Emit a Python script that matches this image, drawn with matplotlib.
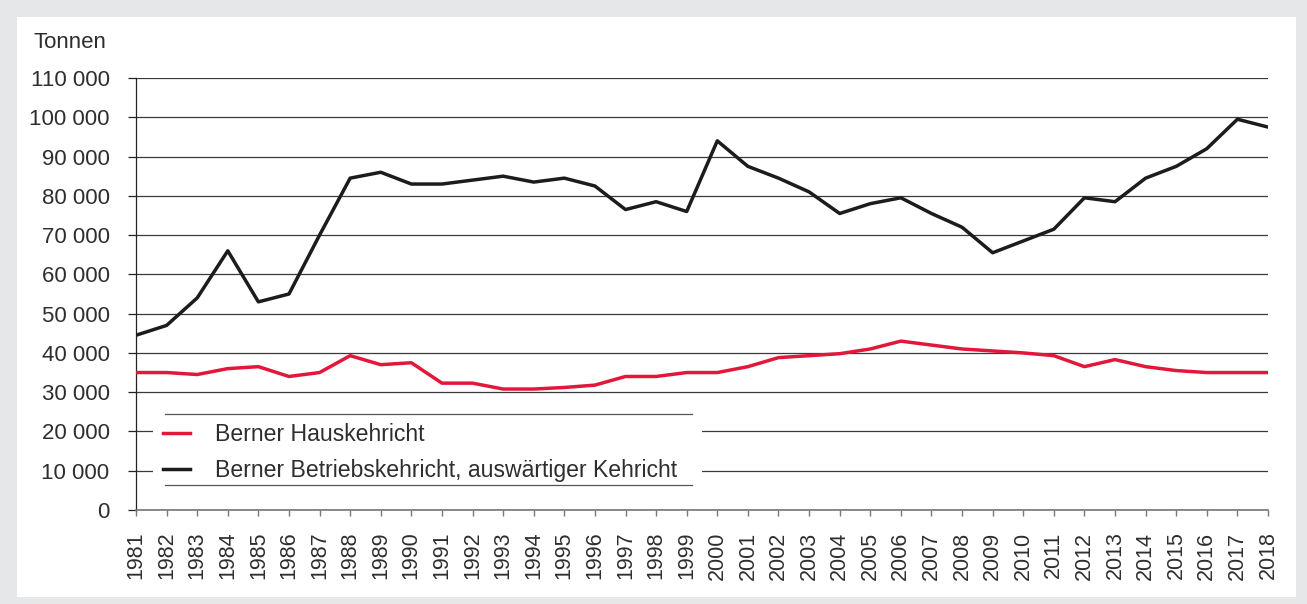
import matplotlib.pyplot as plt
from matplotlib.patches import Rectangle
from matplotlib.lines import Line2D
from matplotlib.ticker import FuncFormatter

years = list(range(1981, 2019))
haus = [35000, 35000, 34500, 36000, 36500, 34000, 35000, 39300, 37000, 37500,
        32300, 32300, 30800, 30800, 31200, 31800, 34000, 34000, 35000, 35000,
        36500, 38800, 39300, 39800, 41000, 43000, 42000, 41000, 40500, 40000,
        39300, 36500, 38300, 36500, 35500, 35000, 35000, 35000]
betrieb = [44500, 47000, 54000, 66000, 53000, 55000, 70000, 84500, 86000, 83000,
           83000, 84000, 85000, 83500, 84500, 82500, 76500, 78500, 76000, 94000,
           87500, 84500, 81000, 75500, 78000, 79500, 75500, 72000, 65500, 68500,
           71500, 79500, 78500, 84500, 87500, 92000, 99500, 97500]
labels = ['Berner Hauskehricht', 'Berner Betriebskehricht, auswärtiger Kehricht']
yticks = list(range(0, 110001, 10000))

plt.rcParams['font.family'] = ['Liberation Sans', 'DejaVu Sans']
txt = '#2e2e2e'

W, H = 1307, 604
fig = plt.figure(figsize=(W / 100, H / 100), dpi=100)
fig.patch.set_facecolor('#e6e7e9')
fig.patches.append(Rectangle((17 / W, 7 / H), 1279 / W, 580 / H,
                             transform=fig.transFigure, facecolor='white',
                             edgecolor='none', zorder=-10))

ax = fig.add_axes([136 / W, 1 - 510 / H, 1132 / W, 432 / H])
ax.set_facecolor('none')

ax.plot(years, haus, color='#e2183b', lw=2.5, label=labels[0], zorder=3)
ax.plot(years, betrieb, color='#1c1c1c', lw=2.5, label=labels[1], zorder=3)

ax.set_xlim(1981, 2018)
ax.set_ylim(0, 110000)
ax.set_yticks(yticks)
ax.set_xticks(years)
ax.set_xticklabels([str(y) for y in years], rotation=90)
ax.yaxis.set_major_formatter(FuncFormatter(lambda v, p: f'{int(v):,}'.replace(',', ' ')))
ax.grid(axis='y', color='#3a3a3a', lw=0.9, zorder=1)

for s in ['top', 'right']:
    ax.spines[s].set_visible(False)
ax.spines['left'].set_color('#222222')
ax.spines['left'].set_linewidth(0.9)
ax.spines['bottom'].set_color('#777777')
ax.spines['bottom'].set_linewidth(1.2)
ax.tick_params(axis='y', length=6, width=0.9, color='#222222', pad=13,
               labelsize=16, labelcolor=txt)
ax.tick_params(axis='x', length=4.5, width=1, color='#777777', pad=11,
               labelsize=15.5, labelcolor=txt)

fig.text(33 / W, 1 - 43 / H, 'Tonnen', fontsize=16, color=txt, va='center', ha='left')

# white box behind the legend, with rules above and below
fig.add_artist(Rectangle((153 / W, 1 - 500 / H), 549 / W, 100 / H,
                         transform=fig.transFigure, facecolor='white',
                         edgecolor='none', zorder=4))
for yy in (414, 485):
    fig.add_artist(Line2D([165 / W, 692 / W], [1 - yy / H, 1 - yy / H],
                          color='#555555', lw=0.9, zorder=6))

leg = fig.legend(loc='upper left', bbox_to_anchor=(163 / W, 1 - 423 / H),
                 frameon=False, fontsize=16.6, handlelength=1.18, handletextpad=1.08,
                 labelspacing=0.55, borderpad=0, borderaxespad=0)
for t in leg.get_texts():
    t.set_color(txt)
leg.set_zorder(7)

fig.savefig('out.png', dpi=100)
